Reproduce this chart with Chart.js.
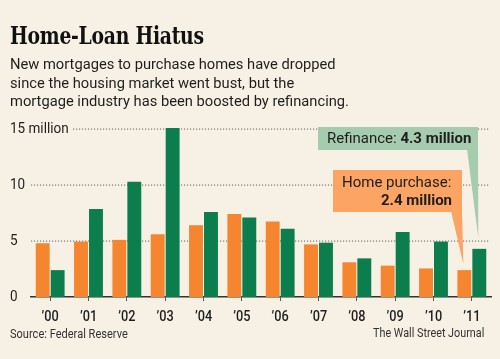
<!DOCTYPE html>
<html>
<head>
<meta charset="utf-8">
<script src="https://cdn.jsdelivr.net/npm/chart.js@4/dist/chart.umd.min.js"></script>
<style>
html,body{margin:0;padding:0;background:#F7F1E5;}
#wrap{position:relative;width:500px;height:359px;overflow:hidden;background:#F7F1E5;}
#c{position:absolute;left:0;top:0;}
.t{position:absolute;white-space:nowrap;color:#1e1e1e;transform-origin:0 0;}
#title{left:10px;top:24px;font:bold 24px "DejaVu Serif Condensed","DejaVu Serif",serif;line-height:24px;letter-spacing:-0.3px;transform:scaleX(0.87);color:#111;}
#sub{left:10px;top:55px;font:15px Roboto,sans-serif;line-height:18.7px;transform:scaleX(0.98);}
#src{left:10px;top:327px;font:13px Roboto,sans-serif;line-height:14px;color:#333;transform:scaleX(0.85);}
#cred{left:373px;top:326px;font:13px Roboto,sans-serif;line-height:14px;color:#333;transform:scaleX(0.83);}
</style>
</head>
<body>
<div id="wrap">
<canvas id="c" width="500" height="359"></canvas>
<div class="t" id="title">Home-Loan Hiatus</div>
<div class="t" id="sub">New mortgages to purchase homes have dropped<br>since the housing market went bust, but the<br>mortgage industry has been boosted by refinancing.</div>
<div class="t" id="src">Source: Federal Reserve</div>
<div class="t" id="cred">The Wall Street Journal</div>
</div>
<script>
// ---- data ----
const years = ["\u201900","\u201901","\u201902","\u201903","\u201904","\u201905","\u201906","\u201907","\u201908","\u201909","\u201910","\u201911"];
const homePurchase = [4.8, 4.95, 5.1, 5.6, 6.4, 7.4, 6.75, 4.7, 3.1, 2.8, 2.55, 2.4];
const refinance = [2.4, 7.85, 10.3, 15.1, 7.6, 7.1, 6.1, 4.85, 3.45, 5.8, 4.95, 4.3];
const yTickValues = [0, 5, 10, 15];
const yTickLabels = ["0", "5", "10", "15 million"];
const refinanceNote = ["Refinance: ", "4.3 million"];
const purchaseNote = ["Home purchase:", "2.4 million"];

const BG = "#F7F1E5";
const ORANGE = "#F5852F";
const GREEN = "#0C7E4E";
const INK = "#1e1e1e";

const axisPlugin = {
  id: "axisText",
  beforeDatasetsDraw(chart) {
    const ctx = chart.ctx;
    const y = chart.scales.y, x = chart.scales.x;
    const area = chart.chartArea;
    const sx = 0.9;
    ctx.save();
    ctx.font = "15px Roboto, sans-serif";
    // dotted grid lines (not at zero; the axis line is there)
    yTickValues.forEach((v, i) => {
      if (v === 0) return;
      const py = Math.round(y.getPixelForValue(v));
      const labelEnd = 10 + ctx.measureText(yTickLabels[i]).width * sx + 4;
      const x0 = Math.round(Math.max(area.left, labelEnd));
      ctx.fillStyle = "#7a7a7a";
      for (let px = x0; px < area.right - 1; px += 3) {
        ctx.fillRect(px, py - 0.5, 1.2, 1.2);
      }
    });
    // y tick labels
    ctx.fillStyle = INK;
    ctx.textBaseline = "middle";
    ctx.textAlign = "left";
    yTickValues.forEach((v, i) => {
      const py = y.getPixelForValue(v);
      ctx.save();
      ctx.translate(10, py);
      ctx.scale(sx, 1);
      ctx.fillText(yTickLabels[i], 0, 0.5);
      ctx.restore();
    });
    // x tick labels
    ctx.font = "500 15px Roboto, sans-serif";
    ctx.textAlign = "center";
    ctx.textBaseline = "alphabetic";
    years.forEach((lab, i) => {
      const px = x.getPixelForValue(i);
      ctx.save();
      ctx.translate(px, 321);
      ctx.scale(0.85, 1);
      ctx.fillText(lab, 0, 0);
      ctx.restore();
    });
    ctx.restore();
  }
};

const notePlugin = {
  id: "notes",
  afterDatasetsDraw(chart) {
    const ctx = chart.ctx;
    const last = years.length - 1;
    const gBar = chart.getDatasetMeta(1).data[last];
    const oBar = chart.getDatasetMeta(0).data[last];
    ctx.save();
    // green callout
    ctx.fillStyle = "#A5CCAE";
    ctx.fillRect(318, 127, 160, 23);
    ctx.beginPath();
    ctx.moveTo(467, 149);
    ctx.lineTo(478, 149);
    ctx.lineTo(gBar.x - 1, gBar.y - 11);
    ctx.closePath();
    ctx.fill();
    // orange callout
    ctx.fillStyle = "#FBA463";
    ctx.fillRect(333, 170, 129, 42);
    ctx.beginPath();
    ctx.moveTo(451, 211);
    ctx.lineTo(462, 211);
    ctx.lineTo(oBar.x - 1, oBar.y - 6);
    ctx.closePath();
    ctx.fill();
    // texts
    ctx.fillStyle = INK;
    ctx.textBaseline = "alphabetic";
    ctx.textAlign = "left";
    ctx.font = "15px Roboto, sans-serif";
    ctx.fillText(refinanceNote[0], 327, 143);
    const w = ctx.measureText(refinanceNote[0]).width;
    ctx.font = "bold 15px Roboto, sans-serif";
    ctx.fillText(refinanceNote[1], 327 + w, 143);
    ctx.font = "15px Roboto, sans-serif";
    ctx.fillText(purchaseNote[0], 342, 187);
    ctx.font = "bold 15px Roboto, sans-serif";
    ctx.textAlign = "right";
    ctx.fillText(purchaseNote[1], 452, 205);
    ctx.restore();
  }
};

new Chart(document.getElementById("c"), {
  type: "bar",
  data: {
    labels: years,
    datasets: [
      { label: "Home purchase", data: homePurchase, backgroundColor: ORANGE, clip: false,
        categoryPercentage: 0.78, barPercentage: 0.93 },
      { label: "Refinance", data: refinance, backgroundColor: GREEN, clip: false,
        categoryPercentage: 0.78, barPercentage: 0.93 }
    ]
  },
  options: {
    responsive: false,
    maintainAspectRatio: false,
    devicePixelRatio: 1,
    animation: false,
    layout: { padding: { left: 10, right: 9, top: 129, bottom: 32 } },
    plugins: { legend: { display: false }, tooltip: { enabled: false } },
    scales: {
      y: {
        min: 0, max: 15,
        afterBuildTicks(scale) { scale.ticks = yTickValues.map(v => ({ value: v })); },
        afterFit(scale) { scale.width = 21; },
        border: { display: false },
        grid: { display: false },
        ticks: { display: false }
      },
      x: {
        afterFit(scale) { scale.height = 30; },
        border: { display: true, color: "#333", width: 1.5 },
        grid: { display: true, drawOnChartArea: false, drawTicks: true, tickLength: 4, offset: false, color: "#555" },
        ticks: { display: false }
      }
    }
  },
  plugins: [axisPlugin, notePlugin]
});
</script>
</body>
</html>
